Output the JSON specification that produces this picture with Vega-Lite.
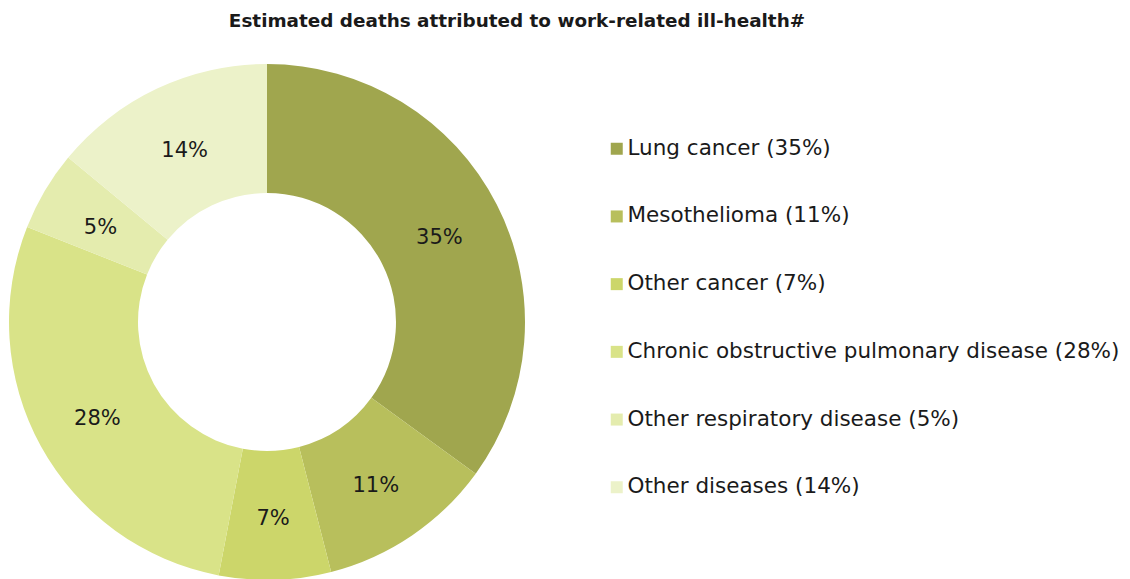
{
  "$schema": "https://vega.github.io/schema/vega-lite/v6.json",
  "width": 516,
  "height": 516,
  "autosize": {"type": "none"},
  "padding": {"left": 9, "top": 64, "right": 605, "bottom": 0},
  "background": "white",
  "title": {
    "text": "Estimated deaths attributed to work-related ill-health#",
    "font": "DejaVu Sans",
    "fontSize": 18.4,
    "fontWeight": "bold",
    "color": "#1a1a1a",
    "anchor": "middle",
    "dx": 250,
    "offset": 34
  },
  "data": {
    "values": [
      {"cause": "Lung cancer (35%)", "share": 35, "label": "35%", "rank": 1},
      {"cause": "Mesothelioma (11%)", "share": 11, "label": "11%", "rank": 2},
      {"cause": "Other cancer (7%)", "share": 7, "label": "7%", "rank": 3},
      {"cause": "Chronic obstructive pulmonary disease (28%)", "share": 28, "label": "28%", "rank": 4},
      {"cause": "Other respiratory disease (5%)", "share": 5, "label": "5%", "rank": 5},
      {"cause": "Other diseases (14%)", "share": 14, "label": "14%", "rank": 6}
    ]
  },
  "encoding": {
    "theta": {"field": "share", "type": "quantitative", "stack": true},
    "order": {"field": "rank", "type": "quantitative"}
  },
  "layer": [
    {
      "mark": {"type": "arc", "outerRadius": 258, "innerRadius": 129},
      "encoding": {
        "color": {
          "field": "cause",
          "type": "nominal",
          "scale": {
            "domain": ["Lung cancer (35%)", "Mesothelioma (11%)", "Other cancer (7%)", "Chronic obstructive pulmonary disease (28%)", "Other respiratory disease (5%)", "Other diseases (14%)"],
            "range": ["#a0a64e", "#b8bf5c", "#ccd66a", "#d9e388", "#e4ecae", "#ecf2c9"]
          },
          "legend": {
            "title": null,
            "orient": "none",
            "legendX": 597,
            "legendY": 74,
            "symbolType": "square",
            "symbolSize": 144,
            "symbolStrokeWidth": 0,
            "labelFont": "DejaVu Sans",
            "labelFontSize": 21.5,
            "labelColor": "#1a1a1a",
            "labelOffset": 0,
            "labelLimit": 600,
            "rowPadding": 44.7
          }
        }
      }
    },
    {
      "mark": {"type": "text", "radius": 193.5, "dy": 4, "font": "DejaVu Sans", "fontSize": 21, "color": "#1a1a1a"},
      "encoding": {
        "text": {"field": "label", "type": "nominal"}
      }
    }
  ]
}
